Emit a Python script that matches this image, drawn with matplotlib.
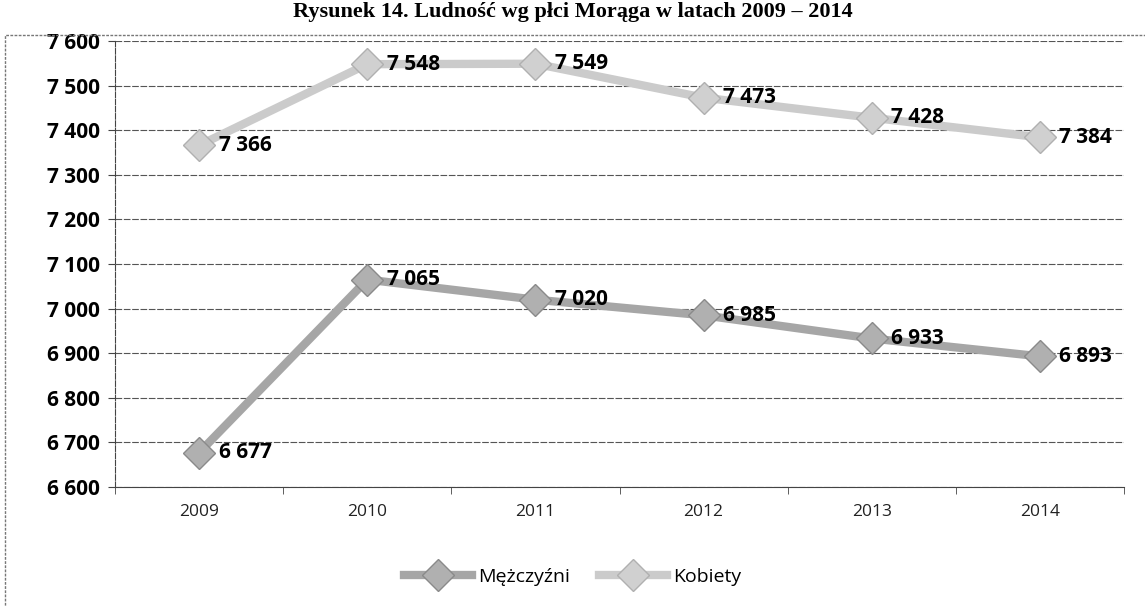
import matplotlib
matplotlib.use("Agg")
import matplotlib.pyplot as plt
from matplotlib.patches import Rectangle

years = ["2009", "2010", "2011", "2012", "2013", "2014"]
men = [6677, 7065, 7020, 6985, 6933, 6893]
women = [7366, 7548, 7549, 7473, 7428, 7384]
y_ticks = [6600, 6700, 6800, 6900, 7000, 7100, 7200, 7300, 7400, 7500, 7600]
title = "Rysunek 14. Ludność wg płci Morąga w latach 2009 – 2014"

W, H = 1145, 606
fig = plt.figure(figsize=(W / 100, H / 100), dpi=100)
ax = fig.add_axes([115 / W, 1 - 487 / H, (1124 - 115) / W, (487 - 41) / H])

x = list(range(len(years)))
ax.plot(x, men, color="#a6a6a6", lw=6, marker="D", ms=16, mec="#8a8a8a",
        mfc="#b0b0b0", label="Mężczyźni", zorder=3)
ax.plot(x, women, color="#cbcbcb", lw=6, marker="D", ms=16, mec="#b0b0b0",
        mfc="#d0d0d0", label="Kobiety", zorder=3)

def fmt(v):
    return f"{v:,}".replace(",", " ")

for series in (men, women):
    for xi, v in zip(x, series):
        ax.annotate(fmt(v), (xi, v), xytext=(14, 0), textcoords="offset points",
                    va="center", ha="left", fontsize=15, fontweight="bold",
                    family="Open Sans", zorder=4)

ax.set_xlim(-0.5, len(years) - 0.5)
ax.set_ylim(6600, 7600)
ax.set_yticks(y_ticks)
ax.set_yticklabels([fmt(v) for v in y_ticks], fontsize=15, fontweight="bold",
                   family="Open Sans")
ax.set_xticks(x)
ax.set_xticklabels(years, fontsize=12.5, family="Open Sans", color="#222222")
ax.set_xticks([i - 0.5 for i in range(len(years) + 1)], minor=True)
ax.tick_params(axis="x", which="major", length=0, pad=12)
ax.tick_params(axis="x", which="minor", length=5, color="#444444")
ax.tick_params(axis="y", length=5, color="#444444", pad=6)
ax.yaxis.grid(True, color="#555555", lw=0.8, ls=(0, (6, 1.5)))
ax.set_axisbelow(True)
for s in ["top", "right"]:
    ax.spines[s].set_visible(False)
ax.spines["left"].set_color("#444444")
ax.spines["left"].set_linestyle((0, (5, 1.5)))
ax.spines["bottom"].set_color("#444444")

leg = fig.legend(loc="center", bbox_to_anchor=(0.5, 1 - 577 / H), ncol=2,
                 frameon=False, handlelength=3.5, columnspacing=1.5,
                 handletextpad=0.3,
                 prop={"family": "Open Sans", "size": 14})

fig.text(0.5, 1 - 12 / H, title, ha="center", va="center", fontsize=16,
         fontweight="bold", family="Liberation Serif")

fig.patches.append(Rectangle((5 / W, -0.1), 1.2, 1 - 35 / H + 0.1,
                             transform=fig.transFigure, fill=False,
                             ec="#777777", lw=1, ls=(0, (2, 1))))

fig.savefig("out.png", dpi=100)
